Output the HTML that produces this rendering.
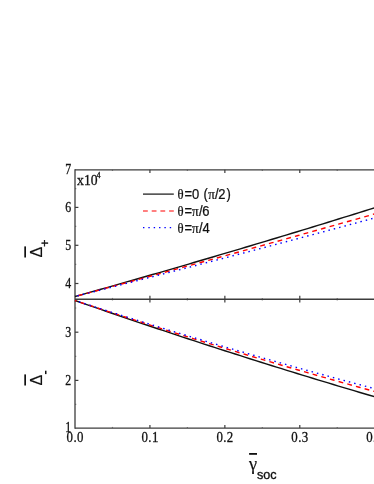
<!DOCTYPE html>
<html><head><meta charset="utf-8"><title>chart</title>
<style>html,body{margin:0;padding:0;background:#fff;}body{width:374px;height:484px;overflow:hidden;font-family:"Liberation Sans",sans-serif;}svg{display:block;will-change:transform}</style>
</head><body>
<svg width="374" height="484" viewBox="0 0 374 484">
<rect width="374" height="484" fill="#fff"/>
<g stroke="#3c3c3c" stroke-width="1.3" fill="none">
<path d="M75.0,169.20000000000002 V428.70000000000005"/>
<path d="M75.0,169.8 H376"/>
<path d="M75.0,299.2 H376" stroke-width="1.5"/>
<path d="M75.0,428.1 H376"/>
</g>
<g stroke="#3c3c3c" stroke-width="1.2" fill="none">
<path d="M149.93,169.8 v3.2"/>
<path d="M149.93,295.8 v6.8"/>
<path d="M149.93,428.1 v-3"/>
<path d="M224.86,169.8 v3.2"/>
<path d="M224.86,295.8 v6.8"/>
<path d="M224.86,428.1 v-3"/>
<path d="M299.79,169.8 v3.2"/>
<path d="M299.79,295.8 v6.8"/>
<path d="M299.79,428.1 v-3"/>
<path d="M374.72,169.8 v3.2"/>
<path d="M374.72,295.8 v6.8"/>
<path d="M374.72,428.1 v-3"/>
<path d="M112.47,169.8 v1.2" stroke-opacity="0.55"/>
<path d="M112.47,297.9 v2.6" stroke-opacity="0.55"/>
<path d="M112.47,428.1 v-1.2" stroke-opacity="0.55"/>
<path d="M187.39,169.8 v1.2" stroke-opacity="0.55"/>
<path d="M187.39,297.9 v2.6" stroke-opacity="0.55"/>
<path d="M187.39,428.1 v-1.2" stroke-opacity="0.55"/>
<path d="M262.32,169.8 v1.2" stroke-opacity="0.55"/>
<path d="M262.32,297.9 v2.6" stroke-opacity="0.55"/>
<path d="M262.32,428.1 v-1.2" stroke-opacity="0.55"/>
<path d="M337.25,169.8 v1.2" stroke-opacity="0.55"/>
<path d="M337.25,297.9 v2.6" stroke-opacity="0.55"/>
<path d="M337.25,428.1 v-1.2" stroke-opacity="0.55"/>
<path d="M75.0,188.6 h1.3" stroke-opacity="0.55"/>
<path d="M75.0,226.35 h1.3" stroke-opacity="0.55"/>
<path d="M75.0,264.4 h1.3" stroke-opacity="0.55"/>
<path d="M75.0,308.0 h1.3" stroke-opacity="0.55"/>
<path d="M75.0,356.3 h1.3" stroke-opacity="0.55"/>
<path d="M75.0,404.3 h1.3" stroke-opacity="0.55"/>
<path d="M75.0,207.4 h3.4"/>
<path d="M75.0,245.3 h3.4"/>
<path d="M75.0,283.5 h3.4"/>
<path d="M75.0,332.2 h3.4"/>
<path d="M75.0,380.4 h3.4"/>
</g>
<g fill="none" stroke-width="1.4">
<polyline points="75.00,296.50 80.17,295.06 85.33,293.61 90.50,292.16 95.67,290.71 100.83,289.25 106.00,287.80 111.17,286.33 116.33,284.87 121.50,283.40 126.67,281.93 131.83,280.46 137.00,278.98 142.17,277.50 147.33,276.02 152.50,274.53 157.67,273.05 162.83,271.55 168.00,270.06 173.17,268.56 178.33,267.06 183.50,265.56 188.67,264.05 193.83,262.54 199.00,261.03 204.17,259.51 209.33,257.99 214.50,256.47 219.67,254.95 224.83,253.42 230.00,251.89 235.17,250.35 240.33,248.82 245.50,247.28 250.67,245.73 255.83,244.19 261.00,242.64 266.17,241.08 271.33,239.53 276.50,237.97 281.67,236.41 286.83,234.85 292.00,233.28 297.17,231.71 302.33,230.13 307.50,228.56 312.67,226.98 317.83,225.40 323.00,223.81 328.17,222.22 333.33,220.63 338.50,219.04 343.67,217.44 348.83,215.84 354.00,214.23 359.17,212.63 364.33,211.02 369.50,209.41 374.67,207.79 379.83,206.17 385.00,204.55" stroke="#111"/>
<polyline points="75.00,296.50 80.17,295.12 85.33,293.73 90.50,292.35 95.67,290.96 100.83,289.58 106.00,288.19 111.17,286.80 116.33,285.40 121.50,284.01 126.67,282.62 131.83,281.22 137.00,279.82 142.17,278.42 147.33,277.02 152.50,275.62 157.67,274.21 162.83,272.81 168.00,271.40 173.17,269.99 178.33,268.58 183.50,267.17 188.67,265.76 193.83,264.34 199.00,262.93 204.17,261.51 209.33,260.09 214.50,258.67 219.67,257.25 224.83,255.83 230.00,254.40 235.17,252.98 240.33,251.55 245.50,250.12 250.67,248.69 255.83,247.26 261.00,245.82 266.17,244.39 271.33,242.95 276.50,241.51 281.67,240.07 286.83,238.63 292.00,237.19 297.17,235.75 302.33,234.30 307.50,232.86 312.67,231.41 317.83,229.96 323.00,228.51 328.17,227.05 333.33,225.60 338.50,224.14 343.67,222.69 348.83,221.23 354.00,219.77 359.17,218.31 364.33,216.84 369.50,215.38 374.67,213.91 379.83,212.44 385.00,210.98" stroke="#ff0000" stroke-dasharray="4.8 4.2" stroke-dashoffset="6.0"/>
<polyline points="75.00,296.50 80.17,295.19 85.33,293.88 90.50,292.57 95.67,291.26 100.83,289.95 106.00,288.63 111.17,287.31 116.33,285.99 121.50,284.67 126.67,283.35 131.83,282.03 137.00,280.70 142.17,279.37 147.33,278.04 152.50,276.71 157.67,275.38 162.83,274.05 168.00,272.71 173.17,271.37 178.33,270.04 183.50,268.70 188.67,267.35 193.83,266.01 199.00,264.66 204.17,263.32 209.33,261.97 214.50,260.62 219.67,259.27 224.83,257.91 230.00,256.56 235.17,255.20 240.33,253.84 245.50,252.48 250.67,251.12 255.83,249.75 261.00,248.39 266.17,247.02 271.33,245.65 276.50,244.28 281.67,242.91 286.83,241.54 292.00,240.16 297.17,238.78 302.33,237.41 307.50,236.03 312.67,234.64 317.83,233.26 323.00,231.87 328.17,230.49 333.33,229.10 338.50,227.71 343.67,226.32 348.83,224.92 354.00,223.53 359.17,222.13 364.33,220.73 369.50,219.33 374.67,217.93 379.83,216.53 385.00,215.12" stroke="#0000ff" stroke-dasharray="1.5 4.02" stroke-dashoffset="3.07"/>
<polyline points="75.00,300.50 80.17,302.30 85.33,304.10 90.50,305.89 95.67,307.68 100.83,309.46 106.00,311.24 111.17,313.01 116.33,314.77 121.50,316.54 126.67,318.29 131.83,320.05 137.00,321.79 142.17,323.54 147.33,325.27 152.50,327.00 157.67,328.73 162.83,330.45 168.00,332.17 173.17,333.88 178.33,335.59 183.50,337.29 188.67,338.99 193.83,340.68 199.00,342.37 204.17,344.05 209.33,345.73 214.50,347.40 219.67,349.07 224.83,350.73 230.00,352.39 235.17,354.04 240.33,355.69 245.50,357.34 250.67,358.97 255.83,360.61 261.00,362.23 266.17,363.86 271.33,365.47 276.50,367.09 281.67,368.70 286.83,370.30 292.00,371.90 297.17,373.49 302.33,375.08 307.50,376.66 312.67,378.24 317.83,379.81 323.00,381.38 328.17,382.95 333.33,384.50 338.50,386.06 343.67,387.61 348.83,389.15 354.00,390.69 359.17,392.22 364.33,393.75 369.50,395.27 374.67,396.79 379.83,398.31 385.00,399.81" stroke="#111"/>
<polyline points="75.00,300.50 80.17,302.23 85.33,303.95 90.50,305.66 95.67,307.37 100.83,309.07 106.00,310.77 111.17,312.46 116.33,314.15 121.50,315.83 126.67,317.51 131.83,319.18 137.00,320.84 142.17,322.50 147.33,324.16 152.50,325.81 157.67,327.45 162.83,329.09 168.00,330.72 173.17,332.34 178.33,333.97 183.50,335.58 188.67,337.19 193.83,338.80 199.00,340.39 204.17,341.99 209.33,343.58 214.50,345.16 219.67,346.74 224.83,348.31 230.00,349.87 235.17,351.43 240.33,352.99 245.50,354.54 250.67,356.08 255.83,357.62 261.00,359.15 266.17,360.68 271.33,362.20 276.50,363.72 281.67,365.23 286.83,366.74 292.00,368.24 297.17,369.73 302.33,371.22 307.50,372.70 312.67,374.18 317.83,375.65 323.00,377.12 328.17,378.58 333.33,380.04 338.50,381.49 343.67,382.93 348.83,384.37 354.00,385.81 359.17,387.24 364.33,388.66 369.50,390.08 374.67,391.49 379.83,392.90 385.00,394.30" stroke="#ff0000" stroke-dasharray="4.8 4.2" stroke-dashoffset="3.2"/>
<polyline points="75.00,300.50 80.17,302.17 85.33,303.84 90.50,305.51 95.67,307.17 100.83,308.82 106.00,310.47 111.17,312.11 116.33,313.75 121.50,315.38 126.67,317.00 131.83,318.63 137.00,320.24 142.17,321.85 147.33,323.45 152.50,325.05 157.67,326.65 162.83,328.23 168.00,329.82 173.17,331.39 178.33,332.97 183.50,334.53 188.67,336.09 193.83,337.65 199.00,339.20 204.17,340.74 209.33,342.28 214.50,343.82 219.67,345.34 224.83,346.87 230.00,348.39 235.17,349.90 240.33,351.40 245.50,352.90 250.67,354.40 255.83,355.89 261.00,357.38 266.17,358.86 271.33,360.33 276.50,361.80 281.67,363.26 286.83,364.72 292.00,366.17 297.17,367.62 302.33,369.06 307.50,370.50 312.67,371.93 317.83,373.35 323.00,374.77 328.17,376.18 333.33,377.59 338.50,379.00 343.67,380.40 348.83,381.79 354.00,383.17 359.17,384.56 364.33,385.93 369.50,387.30 374.67,388.67 379.83,390.03 385.00,391.38" stroke="#0000ff" stroke-dasharray="1.5 4.02" stroke-dashoffset="1.37"/>
<path d="M143,194.1 H173.8" stroke="#111" stroke-width="1.2"/>
<path d="M143,211.0 H173.8" stroke="#ff0000" stroke-dasharray="4.8 3.9" stroke-width="1.2"/>
<path d="M143,227.7 H173.8" stroke="#0000ff" stroke-dasharray="1.4 3.95" stroke-width="1.2"/>
</g>
<g font-family="'Liberation Serif', serif" font-size="14.3px" fill="#111" stroke="#111" stroke-width="0.3">
<text transform="translate(71.30,174.10) scale(0.83,1)" text-anchor="end">7</text>
<text transform="translate(71.30,211.70) scale(0.83,1)" text-anchor="end">6</text>
<text transform="translate(71.30,249.60) scale(0.83,1)" text-anchor="end">5</text>
<text transform="translate(71.30,287.80) scale(0.83,1)" text-anchor="end">4</text>
<text transform="translate(71.30,336.50) scale(0.83,1)" text-anchor="end">3</text>
<text transform="translate(71.30,384.70) scale(0.83,1)" text-anchor="end">2</text>
<text transform="translate(71.30,432.20) scale(0.83,1)" text-anchor="end">1</text>
<text transform="translate(75.20,441.80) scale(0.9,1)" text-anchor="middle" letter-spacing="0.45px">0.0</text>
<text transform="translate(150.13,441.80) scale(0.9,1)" text-anchor="middle" letter-spacing="0.45px">0.1</text>
<text transform="translate(225.06,441.80) scale(0.9,1)" text-anchor="middle" letter-spacing="0.45px">0.2</text>
<text transform="translate(299.99,441.80) scale(0.9,1)" text-anchor="middle" letter-spacing="0.45px">0.3</text>
<text transform="translate(374.92,441.80) scale(0.9,1)" text-anchor="middle" letter-spacing="0.45px">0.4</text>
<text transform="translate(77.10,185.40) scale(0.955,1)" text-anchor="start">x10</text>
<text transform="translate(96.60,177.70) scale(1.0,1)" text-anchor="start" font-size="8.0px">4</text>
</g>
<g fill="#111">
<text transform="translate(177.60,199.30) scale(0.915,1)" font-family="'Liberation Serif', serif" font-size="13.90px" stroke="#111" stroke-width="0.25">θ</text>
<text transform="translate(184.50,199.30) scale(0.915,1)" font-family="'Liberation Sans', sans-serif" font-size="14.20px" stroke="#111" stroke-width="0.25">=</text>
<text transform="translate(192.10,199.30) scale(0.915,1)" font-family="'Liberation Sans', sans-serif" font-size="14.20px" stroke="#111" stroke-width="0.25">0</text>
<text transform="translate(203.40,199.30) scale(0.915,1)" font-family="'Liberation Sans', sans-serif" font-size="14.20px" stroke="#111" stroke-width="0.25">(</text>
<text transform="translate(208.30,199.30) scale(0.915,1)" font-family="'Liberation Serif', serif" font-size="14.40px" stroke="#111" stroke-width="0.25">π</text>
<text transform="translate(214.90,199.30) scale(0.915,1)" font-family="'Liberation Sans', sans-serif" font-size="14.20px" stroke="#111" stroke-width="0.25">/</text>
<text transform="translate(218.35,199.30) scale(0.915,1)" font-family="'Liberation Sans', sans-serif" font-size="14.20px" stroke="#111" stroke-width="0.25">2</text>
<text transform="translate(226.50,199.30) scale(0.915,1)" font-family="'Liberation Sans', sans-serif" font-size="14.20px" stroke="#111" stroke-width="0.25">)</text>
<text transform="translate(177.60,215.80) scale(0.915,1)" font-family="'Liberation Serif', serif" font-size="13.90px" stroke="#111" stroke-width="0.25">θ</text>
<text transform="translate(184.50,215.80) scale(0.915,1)" font-family="'Liberation Sans', sans-serif" font-size="14.20px" stroke="#111" stroke-width="0.25">=</text>
<text transform="translate(192.00,215.80) scale(0.915,1)" font-family="'Liberation Serif', serif" font-size="14.40px" stroke="#111" stroke-width="0.25">π</text>
<text transform="translate(199.00,215.80) scale(0.915,1)" font-family="'Liberation Sans', sans-serif" font-size="14.20px" stroke="#111" stroke-width="0.25">/</text>
<text transform="translate(202.15,215.80) scale(0.915,1)" font-family="'Liberation Sans', sans-serif" font-size="14.20px" stroke="#111" stroke-width="0.25">6</text>
<text transform="translate(177.60,232.50) scale(0.915,1)" font-family="'Liberation Serif', serif" font-size="13.90px" stroke="#111" stroke-width="0.25">θ</text>
<text transform="translate(184.50,232.50) scale(0.915,1)" font-family="'Liberation Sans', sans-serif" font-size="14.20px" stroke="#111" stroke-width="0.25">=</text>
<text transform="translate(192.00,232.50) scale(0.915,1)" font-family="'Liberation Serif', serif" font-size="14.40px" stroke="#111" stroke-width="0.25">π</text>
<text transform="translate(199.00,232.50) scale(0.915,1)" font-family="'Liberation Sans', sans-serif" font-size="14.20px" stroke="#111" stroke-width="0.25">/</text>
<text transform="translate(202.50,232.50) scale(0.915,1)" font-family="'Liberation Sans', sans-serif" font-size="14.20px" stroke="#111" stroke-width="0.25">4</text>
</g>
<g font-family="'Liberation Sans', sans-serif" fill="#111">
<g transform="translate(42.1,257.5) rotate(-90)">
<text x="0" y="0" font-size="17px" textLength="10.8" lengthAdjust="spacingAndGlyphs" stroke="#111" stroke-width="0.18">Δ</text>
<rect x="0" y="-17.8" width="11.1" height="1.7"/>
<text x="10.63" y="6.92" font-size="13px" stroke="#111" stroke-width="0.3">+</text>
</g>
<g transform="translate(42.1,385.5) rotate(-90)">
<text x="0" y="0" font-size="17px" textLength="10.8" lengthAdjust="spacingAndGlyphs" stroke="#111" stroke-width="0.18">Δ</text>
<rect x="0" y="-17.8" width="11.1" height="1.7"/>
<rect x="11.4" y="2.9" width="3.4" height="1.5"/>
</g>
</g>
<g font-family="'Liberation Sans', sans-serif" fill="#111">
<rect x="249.1" y="453.0" width="7.9" height="1.8"/>
<text x="248.9" y="470.2" font-size="18.3px" font-family="'Liberation Serif', serif" stroke="#111" stroke-width="0.2">γ</text>
<text x="257.0" y="478.6" font-size="12.6px" stroke="#111" stroke-width="0.35">soc</text>
</g>
</svg>
</body></html>
